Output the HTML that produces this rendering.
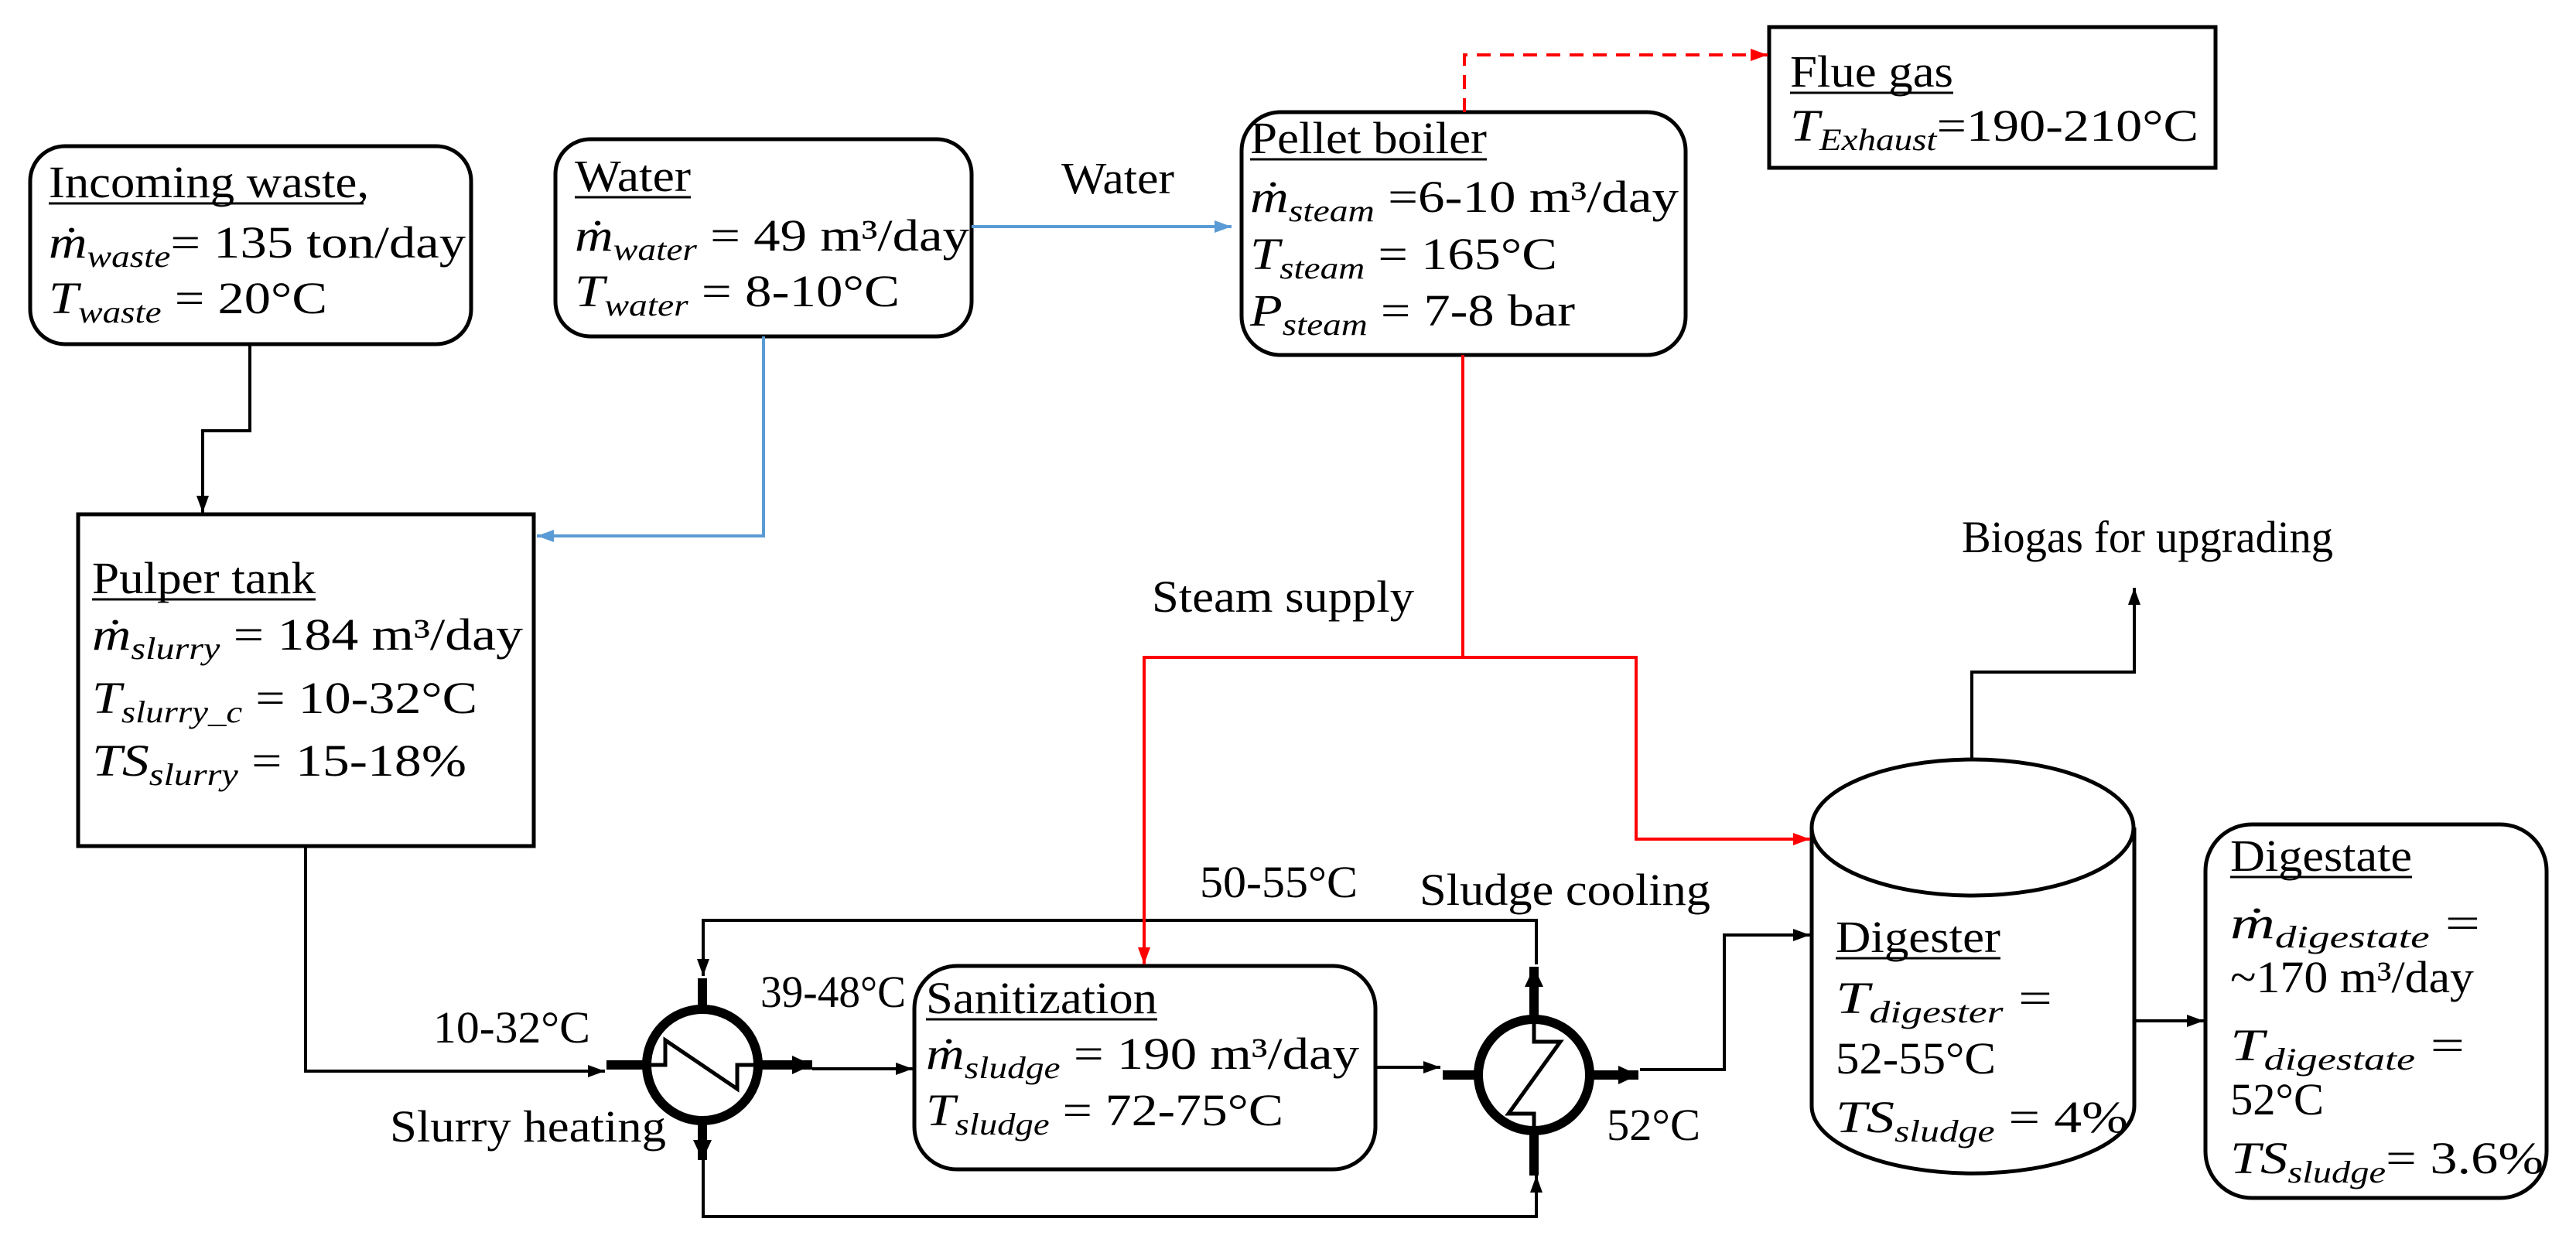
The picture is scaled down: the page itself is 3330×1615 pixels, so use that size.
<!DOCTYPE html>
<html><head><meta charset="utf-8"><style>
html,body{margin:0;padding:0;background:#fff}
svg{display:block}
text,tspan{font-family:"Liberation Serif","Times New Roman",serif;fill:#000}
.i{font-style:italic}
.s{font-style:italic;font-size:40px}
</style></head><body>
<svg width="3330" height="1615" viewBox="0 0 3330 1615" xmlns="http://www.w3.org/2000/svg" font-family="Liberation Serif, serif">
<defs>
<marker id="ab" markerUnits="userSpaceOnUse" markerWidth="24" markerHeight="20" refX="22" refY="10" orient="auto"><path d="M0,2 L22,10 L0,18 Z" fill="#000"/></marker>
<marker id="abig" markerUnits="userSpaceOnUse" markerWidth="28" markerHeight="28" refX="26" refY="14" orient="auto"><path d="M0,2 L26,14 L0,26 Z" fill="#000"/></marker>
<marker id="ar" markerUnits="userSpaceOnUse" markerWidth="24" markerHeight="20" refX="22" refY="10" orient="auto"><path d="M0,2 L22,10 L0,18 Z" fill="#f00"/></marker>
<marker id="abl" markerUnits="userSpaceOnUse" markerWidth="24" markerHeight="20" refX="22" refY="10" orient="auto"><path d="M0,2 L22,10 L0,18 Z" fill="#5b9bd5"/></marker>
</defs>

<rect x="39" y="189" width="570" height="256" rx="45" fill="none" stroke="#000" stroke-width="5"/>
<rect x="718" y="180" width="538" height="255" rx="45" fill="none" stroke="#000" stroke-width="5"/>
<rect x="101" y="665" width="589" height="429" fill="none" stroke="#000" stroke-width="5"/>
<rect x="1605" y="145" width="574" height="314" rx="50" fill="none" stroke="#000" stroke-width="5"/>
<rect x="2287" y="35" width="577" height="182" fill="none" stroke="#000" stroke-width="5"/>
<rect x="1182" y="1249" width="596" height="263" rx="55" fill="none" stroke="#000" stroke-width="5"/>
<rect x="2851" y="1066" width="441" height="483" rx="60" fill="none" stroke="#000" stroke-width="5"/>
<path d="M2342,1070 L2342,1430 A208,87 0 0 0 2759,1430 L2759,1070" fill="none" stroke="#000" stroke-width="5"/>
<ellipse cx="2550" cy="1070" rx="208" ry="88" fill="none" stroke="#000" stroke-width="5"/>

<path d="M323,445 V557 H262 V663" fill="none" stroke="#000" stroke-width="4" marker-end="url(#ab)"/>
<path d="M395,1094 V1385 H782" fill="none" stroke="#000" stroke-width="4" marker-end="url(#ab)"/>
<path d="M1050,1382 H1180" fill="none" stroke="#000" stroke-width="4" marker-end="url(#ab)"/>
<path d="M1778,1380 H1862" fill="none" stroke="#000" stroke-width="4" marker-end="url(#ab)"/>
<path d="M2120,1383 H2229 V1209 H2340" fill="none" stroke="#000" stroke-width="4" marker-end="url(#ab)"/>
<path d="M2759,1320 H2849" fill="none" stroke="#000" stroke-width="4" marker-end="url(#ab)"/>
<path d="M2549,983 V869 H2759 V760" fill="none" stroke="#000" stroke-width="4" marker-end="url(#ab)"/>
<path d="M1986,1247 V1190 H909 V1262" fill="none" stroke="#000" stroke-width="4" marker-end="url(#ab)"/>
<path d="M909,1500 V1573 H1986 V1520" fill="none" stroke="#000" stroke-width="4" marker-end="url(#ab)"/>

<path d="M1256,293 H1592" fill="none" stroke="#5b9bd5" stroke-width="4" marker-end="url(#abl)"/>
<path d="M987,435 V693 H694" fill="none" stroke="#5b9bd5" stroke-width="4" marker-end="url(#abl)"/>

<path d="M1893,145 V71 H2285" fill="none" stroke="#f00" stroke-width="4" stroke-dasharray="18,12" marker-end="url(#ar)"/>
<path d="M1891,459 V850 H1479 V1247" fill="none" stroke="#f00" stroke-width="4" marker-end="url(#ar)"/>
<path d="M1891,850 H2115 V1085 H2340" fill="none" stroke="#f00" stroke-width="4" marker-end="url(#ar)"/>

<circle cx="908" cy="1377" r="72" fill="#fff" stroke="#000" stroke-width="12"/>
<path d="M784,1377 H836" stroke="#000" stroke-width="12"/>
<path d="M836,1377 H860 V1345 L953,1408 V1377 H980" fill="none" stroke="#000" stroke-width="5"/>
<path d="M980,1377 H1050" stroke="#000" stroke-width="12" marker-end="url(#abig)"/>
<path d="M908,1265 V1305" stroke="#000" stroke-width="12"/>
<path d="M908,1449 V1500" stroke="#000" stroke-width="12" marker-end="url(#abig)"/>
<circle cx="1983" cy="1390" r="72" fill="#fff" stroke="#000" stroke-width="12"/>
<path d="M1865,1390 H1911" stroke="#000" stroke-width="12"/>
<path d="M1983,1318 V1347 H2017 L1950,1440 H1983 V1462" fill="none" stroke="#000" stroke-width="5"/>
<path d="M2055,1390 H2118" stroke="#000" stroke-width="12" marker-end="url(#abig)"/>
<path d="M1983,1318 V1250" stroke="#000" stroke-width="12" marker-end="url(#abig)"/>
<path d="M1983,1462 V1520" stroke="#000" stroke-width="12"/>

<g font-size="58">
<text x="63" y="255" textLength="414" lengthAdjust="spacingAndGlyphs">Incoming waste,</text>
<line x1="63" y1="263" x2="470" y2="263" stroke="#000" stroke-width="3"/>
<text x="63" y="333" textLength="539" lengthAdjust="spacingAndGlyphs"><tspan class="i">ṁ</tspan><tspan class="s" dy="12">waste</tspan><tspan dy="-12">= 135 ton/day</tspan></text>
<text x="63" y="405" textLength="360" lengthAdjust="spacingAndGlyphs"><tspan class="i">T</tspan><tspan class="s" dy="12">waste</tspan><tspan dy="-12"> = 20°C</tspan></text>

<text x="743" y="247" textLength="150" lengthAdjust="spacingAndGlyphs">Water</text>
<line x1="743" y1="255" x2="893" y2="255" stroke="#000" stroke-width="3"/>
<text x="743" y="324" textLength="510" lengthAdjust="spacingAndGlyphs"><tspan class="i">ṁ</tspan><tspan class="s" dy="12">water</tspan><tspan dy="-12"> = 49 m³/day</tspan></text>
<text x="743" y="396" textLength="420" lengthAdjust="spacingAndGlyphs"><tspan class="i">T</tspan><tspan class="s" dy="12">water</tspan><tspan dy="-12"> = 8-10°C</tspan></text>

<text x="1372" y="250" textLength="146" lengthAdjust="spacingAndGlyphs">Water</text>

<text x="119" y="767" textLength="289" lengthAdjust="spacingAndGlyphs">Pulper tank</text>
<line x1="119" y1="775" x2="408" y2="775" stroke="#000" stroke-width="3"/>
<text x="119" y="840" textLength="557" lengthAdjust="spacingAndGlyphs"><tspan class="i">ṁ</tspan><tspan class="s" dy="12">slurry</tspan><tspan dy="-12"> = 184 m³/day</tspan></text>
<text x="119" y="922" textLength="498" lengthAdjust="spacingAndGlyphs"><tspan class="i">T</tspan><tspan class="s" dy="12">slurry_c</tspan><tspan dy="-12"> = 10-32°C</tspan></text>
<text x="119" y="1003" textLength="484" lengthAdjust="spacingAndGlyphs"><tspan class="i">TS</tspan><tspan class="s" dy="12">slurry</tspan><tspan dy="-12"> = 15-18%</tspan></text>

<text x="1616" y="198" textLength="306" lengthAdjust="spacingAndGlyphs">Pellet boiler</text>
<line x1="1616" y1="206" x2="1922" y2="206" stroke="#000" stroke-width="3"/>
<text x="1616" y="274" textLength="554" lengthAdjust="spacingAndGlyphs"><tspan class="i">ṁ</tspan><tspan class="s" dy="12">steam</tspan><tspan dy="-12"> =6-10 m³/day</tspan></text>
<text x="1616" y="348" textLength="397" lengthAdjust="spacingAndGlyphs"><tspan class="i">T</tspan><tspan class="s" dy="12">steam</tspan><tspan dy="-12"> = 165°C</tspan></text>
<text x="1616" y="421" textLength="420" lengthAdjust="spacingAndGlyphs"><tspan class="i">P</tspan><tspan class="s" dy="12">steam</tspan><tspan dy="-12"> = 7-8 bar</tspan></text>

<text x="2314" y="112" textLength="211" lengthAdjust="spacingAndGlyphs">Flue gas</text>
<line x1="2314" y1="120" x2="2525" y2="120" stroke="#000" stroke-width="3"/>
<text x="2314" y="182" textLength="528" lengthAdjust="spacingAndGlyphs"><tspan class="i">T</tspan><tspan class="s" dy="12">Exhaust</tspan><tspan dy="-12">=190-210°C</tspan></text>

<text x="1489" y="791" textLength="339" lengthAdjust="spacingAndGlyphs">Steam supply</text>
<text x="2536" y="714" textLength="480" lengthAdjust="spacingAndGlyphs">Biogas for upgrading</text>

<text x="560" y="1348" textLength="203" lengthAdjust="spacingAndGlyphs">10-32°C</text>
<text x="504" y="1476" textLength="357" lengthAdjust="spacingAndGlyphs">Slurry heating</text>
<text x="983" y="1302" textLength="188" lengthAdjust="spacingAndGlyphs">39-48°C</text>
<text x="1551" y="1160" textLength="204" lengthAdjust="spacingAndGlyphs">50-55°C</text>
<text x="1835" y="1170" textLength="376" lengthAdjust="spacingAndGlyphs">Sludge cooling</text>
<text x="2077" y="1474" textLength="121" lengthAdjust="spacingAndGlyphs">52°C</text>

<text x="1197" y="1310" textLength="299" lengthAdjust="spacingAndGlyphs">Sanitization</text>
<line x1="1197" y1="1318" x2="1496" y2="1318" stroke="#000" stroke-width="3"/>
<text x="1197" y="1382" textLength="560" lengthAdjust="spacingAndGlyphs"><tspan class="i">ṁ</tspan><tspan class="s" dy="12">sludge</tspan><tspan dy="-12"> = 190 m³/day</tspan></text>
<text x="1197" y="1455" textLength="462" lengthAdjust="spacingAndGlyphs"><tspan class="i">T</tspan><tspan class="s" dy="12">sludge</tspan><tspan dy="-12"> = 72-75°C</tspan></text>

<text x="2373" y="1231" textLength="213" lengthAdjust="spacingAndGlyphs">Digester</text>
<line x1="2373" y1="1239" x2="2586" y2="1239" stroke="#000" stroke-width="3"/>
<text x="2373" y="1310" textLength="280" lengthAdjust="spacingAndGlyphs"><tspan class="i">T</tspan><tspan class="s" dy="12">digester</tspan><tspan dy="-12"> =</tspan></text>
<text x="2373" y="1388" textLength="207" lengthAdjust="spacingAndGlyphs">52-55°C</text>
<text x="2373" y="1464" textLength="378" lengthAdjust="spacingAndGlyphs"><tspan class="i">TS</tspan><tspan class="s" dy="12">sludge</tspan><tspan dy="-12"> = 4%</tspan></text>

<text x="2883" y="1126" textLength="235" lengthAdjust="spacingAndGlyphs">Digestate</text>
<line x1="2883" y1="1134" x2="3118" y2="1134" stroke="#000" stroke-width="3"/>
<text x="2883" y="1213" textLength="323" lengthAdjust="spacingAndGlyphs"><tspan class="i">ṁ</tspan><tspan class="s" dy="12">digestate</tspan><tspan dy="-12"> =</tspan></text>
<text x="2883" y="1283" textLength="315" lengthAdjust="spacingAndGlyphs">~170 m³/day</text>
<text x="2883" y="1371" textLength="303" lengthAdjust="spacingAndGlyphs"><tspan class="i">T</tspan><tspan class="s" dy="12">digestate</tspan><tspan dy="-12"> =</tspan></text>
<text x="2883" y="1441" textLength="121" lengthAdjust="spacingAndGlyphs">52°C</text>
<text x="2883" y="1517" textLength="405" lengthAdjust="spacingAndGlyphs"><tspan class="i">TS</tspan><tspan class="s" dy="12">sludge</tspan><tspan dy="-12">= 3.6%</tspan></text>
</g>
</svg>
</body></html>
